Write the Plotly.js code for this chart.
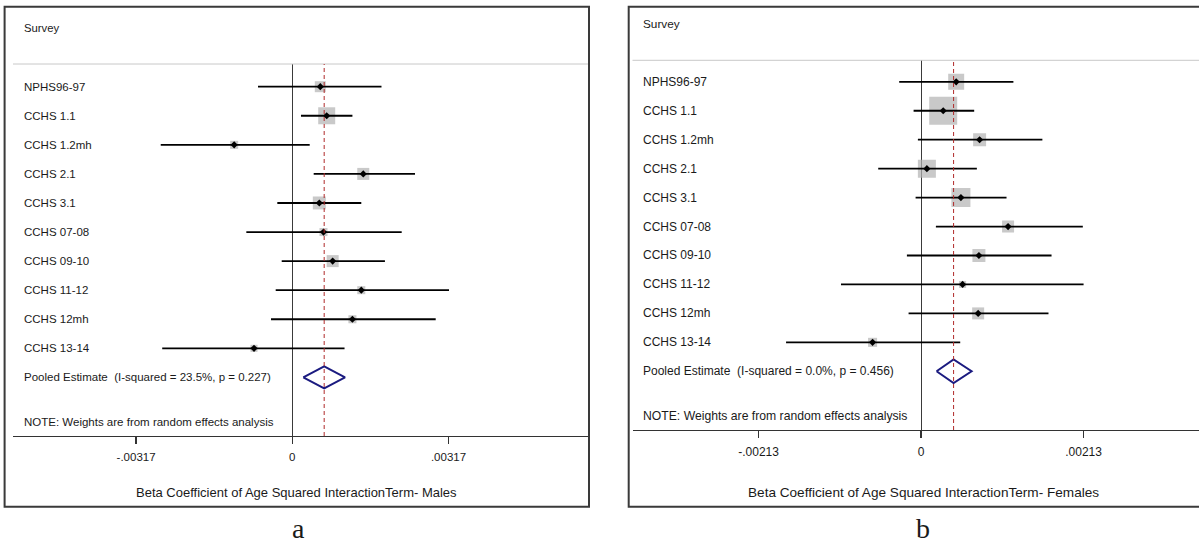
<!DOCTYPE html>
<html><head><meta charset="utf-8">
<script src="https://cdn.plot.ly/plotly-3.0.1.min.js"></script>
<style>html,body{margin:0;padding:0;background:#fff}#chart{width:1199px;height:543px}</style>
</head><body><div id="chart"></div>
<script>
// ---- data ----
const surveys = ['NPHS96-97','CCHS 1.1','CCHS 1.2mh','CCHS 2.1','CCHS 3.1','CCHS 07-08','CCHS 09-10','CCHS 11-12','CCHS 12mh','CCHS 13-14'];

const maleEst    = [0.000568, 0.000698, -0.00118, 0.00144, 0.000548, 0.000633, 0.000819, 0.00140, 0.00122, -0.000777];
const maleLo     = [-0.000696, 0.000176, -0.00267, 0.000434, -0.000304, -0.000933, -0.000215, -0.000337, -0.000432, -0.00264];
const maleHi     = [0.00181, 0.00122, 0.000353, 0.00249, 0.00140, 0.00222, 0.00188, 0.00318, 0.00291, 0.00106];
const maleWeight = [10.3, 24.7, 5.5, 12.3, 14.4, 5.5, 12.3, 5.5, 5.5, 4.2];
const malePooled = [0.000223, 0.000647, 0.00107]; // lo, est, hi

const femaleEst    = [0.00046, 0.00029, 0.000767, 0.000076, 0.000522, 0.00114, 0.000758, 0.000544, 0.000748, -0.000636];
const femaleLo     = [-0.000287, -0.0000983, -0.000042, -0.000562, -0.000072, 0.000194, -0.000186, -0.00105, -0.000164, -0.00177];
const femaleHi     = [0.00121, 0.000696, 0.00159, 0.000731, 0.00112, 0.00212, 0.00171, 0.00213, 0.00167, 0.000513];
const femaleWeight = [10.3, 31.6, 6.8, 13.1, 14.6, 5.8, 6.8, 2.0, 5.8, 3.3];
const femalePooled = [0.000203, 0.000426, 0.000662];

const maleTicks = [-0.00317, 0, 0.00317];
const maleTickText = ['-.00317', '0', '.00317'];
const femaleTicks = [-0.00213, 0, 0.00213];
const femaleTickText = ['-.00213', '0', '.00213'];

const maleHet = 'Pooled Estimate \u00a0(I-squared = 23.5%, p = 0.227)';
const femaleHet = 'Pooled Estimate \u00a0(I-squared = 0.0%, p = 0.456)';
const noteText = 'NOTE: Weights are from random effects analysis';
const maleTitle = 'Beta Coefficient of Age Squared InteractionTerm- Males';
const femaleTitle = 'Beta Coefficient of Age Squared InteractionTerm- Females';

// ---- helpers ----
const W = 1199, H = 543;
const PX = p => p / W;
const PY = p => 1 - p / H;
const FONT = '"Liberation Sans", Arial, sans-serif';
const TXT = '#1a1a1a';

function panel(est, lo, hi, wt, pooled, xa, ya, maxBox, diamondHalf) {
  const idx = est.map((_, i) => i);
  const maxW = Math.max(...wt);
  const traces = [];
  traces.push({
    type: 'scatter', mode: 'markers', x: est, y: idx, xaxis: xa, yaxis: ya,
    marker: {symbol: 'square', color: 'rgb(178,178,178)', size: wt.map(w => maxBox * Math.sqrt(w / maxW)), line: {width: 0}},
    hoverinfo: 'skip', showlegend: false
  });
  const lx = [], ly = [];
  idx.forEach(i => { lx.push(lo[i], hi[i], null); ly.push(i, i, null); });
  traces.push({
    type: 'scatter', mode: 'lines', x: lx, y: ly, xaxis: xa, yaxis: ya,
    line: {color: '#000', width: 1.8}, hoverinfo: 'skip', showlegend: false
  });
  traces.push({
    type: 'scatter', mode: 'markers', x: est, y: idx, xaxis: xa, yaxis: ya,
    marker: {symbol: 'diamond', color: '#000', size: 5.5, line: {width: 0}},
    hoverinfo: 'skip', showlegend: false
  });
  const r = est.length;
  traces.push({
    type: 'scatter', mode: 'lines', xaxis: xa, yaxis: ya,
    x: [pooled[0], pooled[1], pooled[2], pooled[1], pooled[0]],
    y: [r, r - diamondHalf, r, r + diamondHalf, r],
    line: {color: '#1b1b80', width: 2}, hoverinfo: 'skip', showlegend: false
  });
  return traces;
}

const data = [
  ...panel(maleEst, maleLo, maleHi, maleWeight, malePooled, 'x', 'y', 17, 0.378),
  ...panel(femaleEst, femaleLo, femaleHi, femaleWeight, femalePooled, 'x2', 'y2', 28, 0.41)
];

const axisCommon = {
  showgrid: false, zeroline: true, zerolinecolor: '#3a3a3a', zerolinewidth: 1,
  showline: true, linecolor: '#333', linewidth: 1.3,
  ticks: 'outside', ticklen: 7, tickwidth: 1.3, tickcolor: '#333',
  tickmode: 'array', fixedrange: true
};
const yCommon = {showgrid: false, zeroline: false, showline: false, showticklabels: false, ticks: '', fixedrange: true};

const annotations = [];
function addLabels(yref, xpx, fs, het) {
  surveys.forEach((s, i) => annotations.push({
    xref: 'paper', yref: yref, x: PX(xpx), y: i, text: s, showarrow: false, borderpad: 0,
    xanchor: 'left', yanchor: 'middle', font: {family: FONT, size: fs, color: TXT}
  }));
  annotations.push({
    xref: 'paper', yref: yref, x: PX(xpx), y: surveys.length, text: het, showarrow: false, borderpad: 0,
    xanchor: 'left', yanchor: 'middle', font: {family: FONT, size: fs, color: TXT}
  });
}
addLabels('y', 22.5, 11.5, maleHet);
addLabels('y2', 641.5, 12, femaleHet);

function paperText(text, xpx, ypx, fs, anchor, fam) {
  annotations.push({
    xref: 'paper', yref: 'paper', x: PX(xpx), y: PY(ypx), text: text, showarrow: false, borderpad: 0,
    xanchor: anchor, yanchor: 'middle', font: {family: fam || FONT, size: fs, color: TXT}
  });
}
paperText('Survey', 22.5, 28, 11.3, 'left');
paperText('Survey', 641.5, 24.3, 11.8, 'left');
paperText(noteText, 22.5, 422.3, 11.5, 'left');
paperText(noteText, 641.5, 416, 12.2, 'left');
paperText(maleTitle, 296.6, 492.3, 13, 'center');
paperText(femaleTitle, 923, 492.3, 13.6, 'center');
paperText('a', 298.5, 528, 28, 'center', '"Liberation Serif", "Times New Roman", serif');
paperText('b', 923.4, 528, 28, 'center', '"Liberation Serif", "Times New Roman", serif');

const shapes = [
  // frames
  {type: 'rect', xref: 'paper', yref: 'paper', x0: PX(4.6), x1: PX(589), y0: PY(506.7), y1: PY(6.7), line: {color: '#3a3a3a', width: 2}},
  {type: 'rect', xref: 'paper', yref: 'paper', x0: PX(628.7), x1: PX(1210), y0: PY(506.7), y1: PY(6.7), line: {color: '#3a3a3a', width: 2}},
  // header lines
  {type: 'line', xref: 'paper', yref: 'paper', x0: PX(13), x1: PX(588), y0: PY(64), y1: PY(64), line: {color: '#c8c8c8', width: 1}},
  {type: 'line', xref: 'paper', yref: 'paper', x0: PX(632.5), x1: PX(1199), y0: PY(60.3), y1: PY(60.3), line: {color: '#c8c8c8', width: 1}},
  // pooled reference lines
  {type: 'line', xref: 'x', yref: 'y domain', x0: malePooled[1], x1: malePooled[1], y0: 0, y1: 1, line: {color: '#b02a2a', width: 1, dash: '4px,3px'}},
  {type: 'line', xref: 'x2', yref: 'y2 domain', x0: femalePooled[1], x1: femalePooled[1], y0: 0, y1: 1, line: {color: '#b02a2a', width: 1, dash: '4px,3px'}}
];

const layout = {
  width: W, height: H, margin: {l: 0, r: 0, t: 0, b: 0},
  paper_bgcolor: '#fff', plot_bgcolor: 'rgba(0,0,0,0)', showlegend: false,
  font: {family: FONT, color: TXT},
  xaxis: Object.assign({}, axisCommon, {
    domain: [PX(13), PX(589)], range: [-0.005668, 0.006021], anchor: 'y',
    tickvals: maleTicks, ticktext: maleTickText, tickfont: {family: FONT, size: 11.5, color: TXT}, ticklabelstandoff: 3
  }),
  yaxis: Object.assign({}, yCommon, {domain: [PY(436), PY(64)], range: [12.016, -0.781], anchor: 'x'}),
  xaxis2: Object.assign({}, axisCommon, {
    domain: [PX(632.5), 1], range: [-0.003783, 0.003643], anchor: 'y2',
    tickvals: femaleTicks, ticktext: femaleTickText, tickfont: {family: FONT, size: 12, color: TXT}, ticklabelstandoff: 3
  }),
  yaxis2: Object.assign({}, yCommon, {domain: [PY(430), PY(60.3)], range: [12.028, -0.743], anchor: 'x2'}),
  annotations: annotations,
  shapes: shapes
};

Plotly.newPlot('chart', data, layout, {displayModeBar: false, staticPlot: true});
</script>
</body></html>
